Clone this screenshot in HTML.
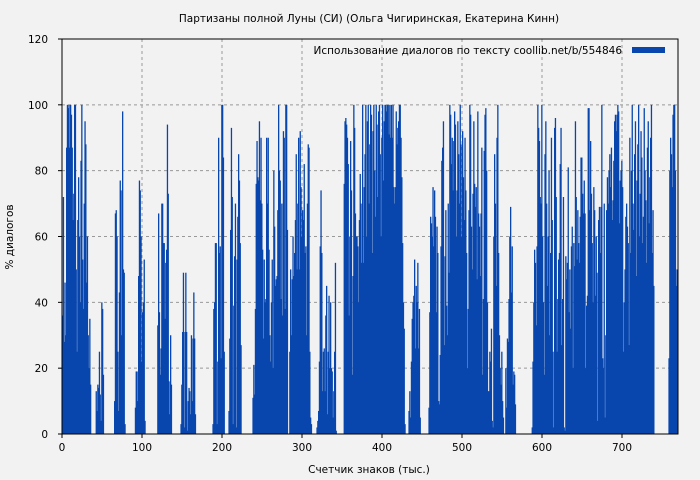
<!DOCTYPE html>
<html><head><meta charset="utf-8"><style>
body{margin:0;background:#f2f2f2;}
svg{display:block;font-family:"DejaVu Sans","Liberation Sans",sans-serif;}
</style></head><body>
<svg id="chart" width="700" height="480" xmlns="http://www.w3.org/2000/svg">
<rect width="700" height="480" fill="#f2f2f2"/>
<text x="369" y="22" font-size="10.5" text-anchor="middle">Партизаны полной Луны (СИ) (Ольга Чигиринская, Екатерина Кинн)</text>
<g id="grid"></g><g id="bars"></g><g id="axes"></g>
<text x="369" y="473" font-size="10.5" text-anchor="middle">Счетчик знаков (тыс.)</text>
<text x="13" y="237" font-size="10.5" text-anchor="middle" transform="rotate(-90 13 237)">% диалогов</text>
<g>
<text x="622" y="54" font-size="10.5" text-anchor="end">Использование диалогов по тексту  coollib.net/b/554846</text>
<rect x="632" y="47" width="33" height="6" fill="#0846ad"/>
</g>
</svg>
<script>
const xTicks=[0,100,200,300,400,500,600,700];
const yTicks=[0,20,40,60,80,100,120];
const values=[36,72,28,46,30,87,
100,99,100,87,100,97,87,65,73,100,100,50,25,65,78,60,40,83,100,53,38,70,95,88,46,
60,30,20,35,15,0,0,0,0,0,0,
13,7,15,14,25,12,4,40,38,18,
0,0,0,0,0,0,0,0,0,0,0,0,0,
10,67,68,60,25,7,43,77,74,30,98,50,49,3,
0,0,0,0,0,0,0,0,0,0,0,0,
8,19,19,10,48,77,74,60,22,37,40,53,4,
0,0,0,0,0,0,0,0,0,0,0,0,0,0,0,
33,67,37,18,26,70,70,58,58,35,52,56,94,73,16,6,30,15,
0,0,0,0,0,0,0,0,0,0,0,
3,15,31,49,2,31,49,31,1,10,14,13,6,30,10,29,43,29,6,
0,0,0,0,0,0,0,0,0,0,0,0,0,0,0,0,0,0,0,0,0,
3,38,40,58,58,3,22,90,55,57,23,100,100,84,25,
0,0,0,0,0,
7,29,62,93,72,3,39,54,70,2,53,66,85,77,58,27,
0,0,0,0,0,0,0,0,0,0,0,0,0,0,
11,21,12,38,76,89,78,77,95,71,90,70,56,29,53,40,41,
90,70,90,56,30,22,40,53,20,80,63,45,47,48,68,100,80,77,41,70,36,92,90,38,100,100,62,0,0,
25,50,30,47,60,48,55,65,85,50,70,90,50,92,75,60,68,65,82,55,57,30,70,88,87,25,5,
3,0,0,0,0,0,0,
2,4,7,22,57,74,55,13,25,26,13,36,45,6,25,42,20,40,20,19,5,13,25,52,1,
0,0,0,0,0,0,0,0,0,
76,95,96,94,90,82,36,60,89,74,18,48,100,93,67,60,60,57,40,65,79,70,52,100,52,75,
85,100,60,95,100,70,88,100,97,55,92,100,80,66,100,94,72,98,100,85,60,90,100,77,95,100,
100,98,100,100,91,100,90,100,90,100,75,70,75,98,88,93,95,100,100,90,78,58,40,32,3,
0,0,0,0,
7,13,5,22,35,40,42,53,26,45,40,52,26,38,5,
0,0,0,0,0,0,0,0,0,0,
8,37,66,64,60,75,57,74,66,37,63,55,10,9,24,57,83,87,95,27,54,68,39,30,70,49,100,97,82,90,74,89,98,94,60,74,95,
85,70,100,88,60,92,78,65,90,
74,55,20,38,68,100,97,63,50,73,95,76,69,75,47,98,67,63,48,67,87,18,41,86,97,99,80,40,13,13,25,22,32,4,2,
60,85,70,45,90,100,55,30,20,15,25,10,5,0,0,
20,8,29,28,41,60,69,43,57,15,19,18,9,
0,0,0,0,0,0,0,0,0,0,0,0,0,0,0,0,0,0,0,0,
2,22,40,56,52,33,57,100,93,89,72,70,100,60,40,18,
85,95,70,45,60,80,30,55,90,65,25,
2,93,96,72,25,41,53,55,82,93,27,41,72,2,1,54,47,52,81,37,50,
32,57,63,20,58,51,95,72,53,68,58,52,66,84,84,73,67,77,67,20,39,42,99,99,68,89,73,58,40,
75,68,42,60,49,4,65,69,55,69,100,23,20,70,5,
30,68,78,70,80,85,75,87,65,71,83,95,97,92,97,100,98,64,77,80,83,75,25,40,50,66,70,63,58,27,
90,55,80,100,70,62,85,95,48,77,88,100,60,73,92,84,58,66,99,80,71,52,87,95,64,78,90,100,55,68,45,
0,0,0,0,0,0,0,0,0,0,0,0,0,0,0,0,0,0,
23,80,90,85,75,97,100,100,80,45,50,45];
const NS="http://www.w3.org/2000/svg";
const L=62,R=678,T=39,B=434,xMax=770,yMax=120;
const xs=v=>L+v*(R-L)/xMax;
const ys=v=>B-v*(B-T)/yMax;
const grid=document.getElementById('grid'),bars=document.getElementById('bars'),axes=document.getElementById('axes');
function mk(tag,attrs,parent){const e=document.createElementNS(NS,tag);for(const k in attrs)e.setAttribute(k,attrs[k]);parent.appendChild(e);return e;}
yTicks.forEach(t=>{
  if(t>0&&t<120){const g=mk('line',{x1:L,x2:R,y1:ys(t),y2:ys(t),stroke:'#999','stroke-dasharray':'3,3'},grid);
  
  }
  const tk=mk('line',{x1:L-4,x2:L,y1:ys(t),y2:ys(t),stroke:'#000'},axes);
  
  
  const tx=mk('text',{x:L-14,y:ys(t)+4,'font-size':10.5,'text-anchor':'end'},axes);tx.textContent=t;
  
  
});
xTicks.forEach(t=>{
  if(t>0){const g=mk('line',{x1:xs(t),x2:xs(t),y1:T,y2:B,stroke:'#999','stroke-dasharray':'3,3'},grid);
  
  }
  const tk=mk('line',{x1:xs(t),x2:xs(t),y1:B,y2:B+4,stroke:'#000'},axes);
  
  
  const tx=mk('text',{x:xs(t),y:B+17,'font-size':10.5,'text-anchor':'middle'},axes);tx.textContent=t;
  
  
});
const bw=(R-L)/xMax;
values.forEach((v,i)=>{
  if(v<=0)return;
  const r=mk('rect',{x:xs(i),y:ys(v),width:bw+0.5,height:B-ys(v),fill:'#0846ad'},bars);
  
  
});
const fr=mk('rect',{x:L,y:T,width:R-L,height:B-T,fill:'none',stroke:'#000','stroke-width':1},axes);


</script>
</body></html>
